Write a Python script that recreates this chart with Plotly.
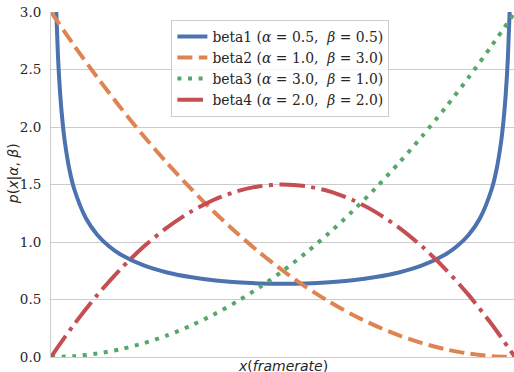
import plotly.graph_objects as go

# ---- data ----
x_grid = [0.0, 0.05, 0.10, 0.15, 0.20, 0.25, 0.30, 0.35, 0.40, 0.45, 0.50,
          0.55, 0.60, 0.65, 0.70, 0.75, 0.80, 0.85, 0.90, 0.95, 1.0]

beta1_x = [0.005, 0.01, 0.015, 0.02, 0.025, 0.03, 0.04, 0.05, 0.075, 0.1, 0.125, 0.15,
           0.2, 0.25, 0.3, 0.35, 0.4, 0.45, 0.5, 0.55, 0.6, 0.65, 0.7, 0.75, 0.8,
           0.85, 0.875, 0.9, 0.925, 0.95, 0.96, 0.97, 0.975, 0.98, 0.985, 0.99, 0.995]
beta1_y = [4.513, 3.199, 2.619, 2.274, 2.039, 1.866, 1.624, 1.461, 1.209, 1.061, 0.963, 0.891,
           0.796, 0.735, 0.695, 0.667, 0.650, 0.640, 0.637, 0.640, 0.650, 0.667, 0.695, 0.735, 0.796,
           0.891, 0.963, 1.061, 1.209, 1.461, 1.624, 1.866, 2.039, 2.274, 2.619, 3.199, 4.513]

beta2_y = [3.0, 2.7075, 2.43, 2.1675, 1.92, 1.6875, 1.47, 1.2675, 1.08, 0.9075, 0.75,
           0.6075, 0.48, 0.3675, 0.27, 0.1875, 0.12, 0.0675, 0.03, 0.0075, 0.0]

beta3_y = [0.0, 0.0075, 0.03, 0.0675, 0.12, 0.1875, 0.27, 0.3675, 0.48, 0.6075, 0.75,
           0.9075, 1.08, 1.2675, 1.47, 1.6875, 1.92, 2.1675, 2.43, 2.7075, 3.0]

beta4_y = [0.0, 0.285, 0.54, 0.765, 0.96, 1.125, 1.26, 1.365, 1.44, 1.485, 1.5,
           1.485, 1.44, 1.365, 1.26, 1.125, 0.96, 0.765, 0.54, 0.285, 0.0]

names = ["beta1 (<i>α</i>\u00a0=\u00a00.5,\u00a0\u00a0<i>β</i>\u00a0=\u00a00.5)",
         "beta2 (<i>α</i>\u00a0=\u00a01.0,\u00a0\u00a0<i>β</i>\u00a0=\u00a03.0)",
         "beta3 (<i>α</i>\u00a0=\u00a03.0,\u00a0\u00a0<i>β</i>\u00a0=\u00a01.0)",
         "beta4 (<i>α</i>\u00a0=\u00a02.0,\u00a0\u00a0<i>β</i>\u00a0=\u00a02.0)"]

y_ticks = [0.0, 0.5, 1.0, 1.5, 2.0, 2.5, 3.0]
y_ticktext = ["0.0", "0.5", "1.0", "1.5", "2.0", "2.5", "3.0"]

colors = ["#4c72b0", "#dd8452", "#55a868", "#c44e52"]
dashes = ["solid", "15px,6.4px", "4px,6.6px", "25.6px,6.4px,4px,6.4px"]

SERIF = "'DejaVu Serif', 'Liberation Serif', serif"
SANS = "'DejaVu Sans', sans-serif"

fig = go.Figure()
series = [(beta1_x, beta1_y), (x_grid, beta2_y), (x_grid, beta3_y), (x_grid, beta4_y)]
for (xs, ys), nm, c, d in zip(series, names, colors, dashes):
    fig.add_trace(go.Scatter(x=xs, y=ys, mode="lines", name=nm,
                             line=dict(color=c, width=4, dash=d, shape="spline", smoothing=0.8)))

fig.update_layout(
    width=514, height=372,
    margin=dict(l=51, r=0, t=12, b=15, autoexpand=False),
    paper_bgcolor="white", plot_bgcolor="white",
    font=dict(family=SERIF, size=13, color="#262626"),
    showlegend=True,
    legend=dict(x=0.26, y=0.977, xanchor="left", yanchor="top",
                bgcolor="rgba(255,255,255,0.8)", bordercolor="#cccccc", borderwidth=1,
                font=dict(family=SERIF, size=13.9, color="#262626")),
    xaxis=dict(range=[0, 0.998], showticklabels=False, showgrid=False, zeroline=False,
               showline=True, linecolor="#cccccc", linewidth=1, ticks="", automargin=False),
    yaxis=dict(range=[0, 3.0], tickvals=y_ticks, ticktext=y_ticktext, showgrid=True,
               gridcolor="#cccccc", gridwidth=1, zeroline=False, showline=True,
               linecolor="#cccccc", linewidth=1, ticks="", ticklabelstandoff=6,
               automargin=False, tickfont=dict(family=SERIF, size=13.5)),
    annotations=[
        dict(text="<i>x</i>(<i>framerate</i>)", xref="paper", yref="paper", x=0.5, y=0,
             xanchor="center", yanchor="top", yshift=1, showarrow=False,
             font=dict(family=SANS, size=14, color="#262626")),
        dict(text="<i>p</i>(<i>x</i>|<i>α</i>,\u00a0<i>β</i>)", xref="paper", yref="paper",
             x=0, y=0.53, xanchor="center", yanchor="middle", xshift=-38, textangle=-90,
             showarrow=False, font=dict(family=SANS, size=14, color="#262626")),
    ],
)

fig.write_html("out.html", config={"displayModeBar": False},
               post_script="document.body.style.margin='0px';")
